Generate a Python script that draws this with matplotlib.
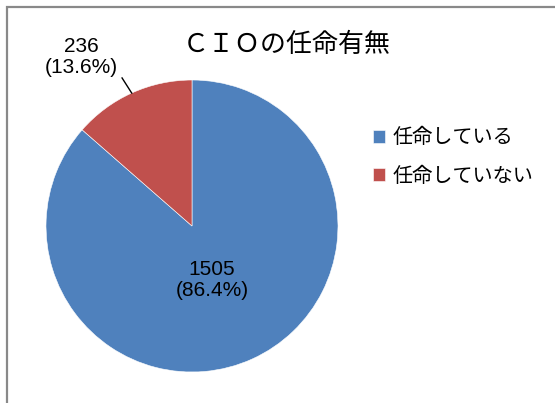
import matplotlib
matplotlib.use("Agg")
import matplotlib.pyplot as plt
from matplotlib.patches import Rectangle
import numpy as np

# data
labels = ["任命している", "任命していない"]
counts = [1505, 236]
colors = ["#4F81BD", "#C0504D"]
title = "ＣＩＯの任命有無"

plt.rcParams["font.family"] = ["Noto Sans CJK JP", "DejaVu Sans"]

W, H = 555, 403
fig = plt.figure(figsize=(W / 100, H / 100), dpi=100)

# outer chart border (cut off at the right and bottom in the original)
fig.patches.append(
    Rectangle((7 / W, -0.1), 1.2, (H - 7) / H + 0.1, transform=fig.transFigure,
              fill=False, edgecolor="#898989", linewidth=1.6)
)

# pie: centre (192, 226) px, radius 146 px
r = 146
ax = fig.add_axes([(192 - r) / W, (H - 226 - r) / H, 2 * r / W, 2 * r / H])
wedges, _ = ax.pie(counts, colors=colors, startangle=90, counterclock=False,
                   radius=1, wedgeprops=dict(linewidth=0.4, edgecolor="white"))
ax.set_xlim(-1, 1)
ax.set_ylim(-1, 1)
ax.axis("off")

total = sum(counts)
pct = [c / total * 100 for c in counts]
num_font = ["Liberation Sans", "DejaVu Sans"]

# inside label for the big slice
ax.text(0.137, -0.37, f"{counts[0]}\n({pct[0]:.1f}%)", ha="center", va="center",
        fontsize=15, family=num_font, linespacing=1.1)

# outside label with leader line for the small slice
w = wedges[1]
mid = np.deg2rad((w.theta1 + w.theta2) / 2)
ax.annotate(f"{counts[1]}\n({pct[1]:.1f}%)", xy=(np.cos(mid), np.sin(mid)),
            xytext=(-0.76, 1.158), ha="center", va="center", fontsize=15,
            family=num_font, linespacing=1.1, annotation_clip=False)
ax.plot([-0.479, np.cos(mid)], [1.014, np.sin(mid)], color="black", lw=1,
        clip_on=False)

fig.text(287 / W, 1 - 44 / H, title, ha="center", va="center", fontsize=18.7)

fig.legend(wedges, labels, loc="center left",
           bbox_to_anchor=(373 / W, 1 - 157 / H), frameon=False,
           fontsize=14.5, handlelength=0.6, handleheight=0.6,
           handletextpad=0.35, labelspacing=0.85, borderpad=0,
           borderaxespad=0)

fig.savefig("out.png", dpi=100)
